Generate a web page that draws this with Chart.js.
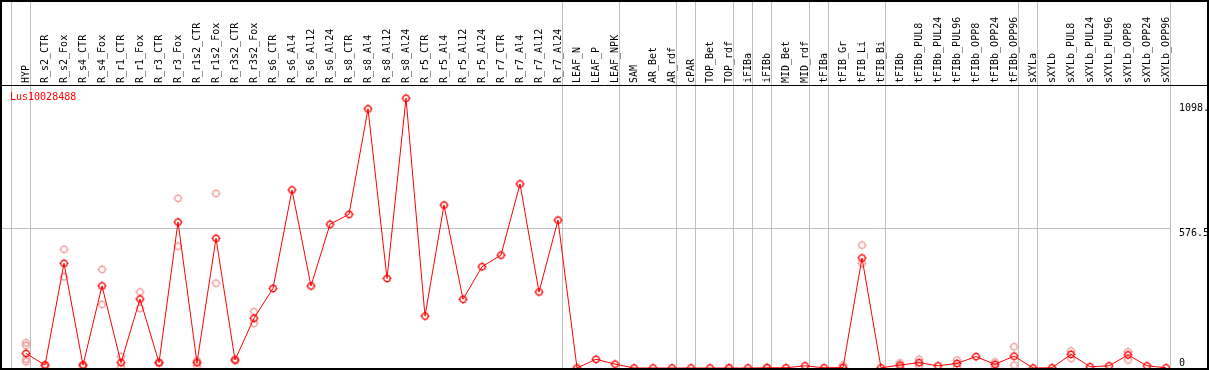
<!DOCTYPE html>
<html>
<head>
<meta charset="utf-8">
<script src="https://cdn.jsdelivr.net/npm/chart.js@4.4.1/dist/chart.umd.min.js"></script>
<style>
  html, body { margin: 0; padding: 0; background: #fff; }
  canvas { display: block; }
</style>
</head>
<body>
<canvas id="geneChart" width="1209" height="370"></canvas>
<script>
const geneName = 'Lus10028488';

const categories = [
  'HYP', 'R_s2_CTR', 'R_s2_Fox', 'R_s4_CTR', 'R_s4_Fox', 'R_r1_CTR', 'R_r1_Fox', 'R_r3_CTR', 'R_r3_Fox',
  'R_r1s2_CTR', 'R_r1s2_Fox', 'R_r3s2_CTR', 'R_r3s2_Fox', 'R_s6_CTR', 'R_s6_Al4', 'R_s6_Al12', 'R_s6_Al24',
  'R_s8_CTR', 'R_s8_Al4', 'R_s8_Al12', 'R_s8_Al24', 'R_r5_CTR', 'R_r5_Al4', 'R_r5_Al12', 'R_r5_Al24',
  'R_r7_CTR', 'R_r7_Al4', 'R_r7_Al12', 'R_r7_Al24', 'LEAF_N', 'LEAF_P', 'LEAF_NPK', 'SAM', 'AR_Bet', 'AR_rdf',
  'cPAR', 'TOP_Bet', 'TOP_rdf', 'iFIBa', 'iFIBb', 'MID_Bet', 'MID_rdf', 'tFIBa', 'tFIB_Gr', 'tFIB_Li', 'tFIB_Bi',
  'tFIBb', 'tFIBb_PUL8', 'tFIBb_PUL24', 'tFIBb_PUL96', 'tFIBb_OPP8', 'tFIBb_OPP24', 'tFIBb_OPP96',
  'sXYLa', 'sXYLb', 'sXYLb_PUL8', 'sXYLb_PUL24', 'sXYLb_PUL96', 'sXYLb_OPP8', 'sXYLb_OPP24', 'sXYLb_OPP96'
];

// index of the last sample in each group (-1 = left edge)
const groupEnds = [-1, 0, 28, 31, 34, 35, 37, 38, 39, 41, 42, 45, 52, 53, 60];

const meanValues = [
  60, 12, 431, 12, 338, 22, 284, 22, 601,
  22, 534, 33, 205, 328, 733, 338, 592,
  633, 1067, 369, 1111, 214, 671, 283, 417,
  465, 758, 313, 609, 0, 36, 16, 0, 0, 0,
  0, 0, 0, 0, 1, 1, 9, 1, 2, 453, 1,
  12, 22, 9, 19, 47, 15, 49,
  0, 1, 56, 5, 9, 54, 9, 1
];

const repA = [
  104, 14, 489, 14, 406, 47, 313, 24, 699,
  30, 719, 36, 232, null, null, null, null,
  null, null, null, null, null, null, null, null,
  null, null, null, null, null, null, null, null, null, null,
  null, null, 2, null, 3, null, null, null, 12, 506, null,
  21, 36, null, 33, null, 25, 88,
  null, null, 70, null, null, 67, null, null
];

const repB = [
  36, 8, 376, 8, 262, 5, 246, 20, 502,
  8, 349, 30, 184, null, null, null, null,
  null, null, null, null, null, null, null, null,
  null, null, null, null, null, null, null, null, null, null,
  null, null, null, null, null, null, null, null, null, 431, null,
  4, 10, null, 5, null, 5, 12,
  null, null, 40, null, null, 33, null, null
];

const repC = [93];
const repD = [26];

const yTickValues = [0, 576.5, 1092];
const yTickLabels = ['0', '576.5', '1098.'];

const toPoints = arr => arr
  .map((v, i) => (v === null ? null : { x: i, y: v }))
  .filter(p => p !== null);

function makeMarker(color) {
  const c = document.createElement('canvas');
  c.width = 11;
  c.height = 11;
  const g = c.getContext('2d');
  g.strokeStyle = color;
  g.lineWidth = 1.3;
  g.beginPath();
  g.arc(5.5, 5.5, 3.2, 0, Math.PI * 2);
  g.stroke();
  g.lineWidth = 1;
  g.beginPath();
  g.moveTo(5.5, 1); g.lineTo(5.5, 2.5);
  g.moveTo(5.5, 8.5); g.lineTo(5.5, 10);
  g.moveTo(1, 5.5); g.lineTo(2.5, 5.5);
  g.moveTo(8.5, 5.5); g.lineTo(10, 5.5);
  g.stroke();
  return c;
}

const mainMarker = makeMarker('#ff0000');
const repMarker = makeMarker('#f09a9a');

const frame = {
  id: 'frame',
  beforeDatasetsDraw(chart) {
    const { ctx, chartArea, scales } = chart;
    ctx.save();
    ctx.strokeStyle = '#c0c0c0';
    ctx.lineWidth = 1;
    groupEnds.forEach(i => {
      const px = Math.round(scales.x.getPixelForValue(i)) + 4.5;
      ctx.beginPath();
      ctx.moveTo(px, 0);
      ctx.lineTo(px, chartArea.bottom);
      ctx.stroke();
    });
    const py = Math.round(scales.y.getPixelForValue(576.5)) + 0.5;
    ctx.beginPath();
    ctx.moveTo(0, py);
    ctx.lineTo(chartArea.right, py);
    ctx.stroke();
    ctx.restore();
  },
  afterDraw(chart) {
    const { ctx, chartArea, scales, width, height } = chart;
    ctx.save();
    ctx.strokeStyle = '#000';
    ctx.lineWidth = 2;
    ctx.strokeRect(1, 1, width - 2, height - 2);
    ctx.lineWidth = 1;
    ctx.beginPath();
    ctx.moveTo(0, chartArea.top + 0.5);
    ctx.lineTo(width, chartArea.top + 0.5);
    ctx.stroke();

    ctx.font = '10px "DejaVu Sans Mono"';
    ctx.textAlign = 'left';
    ctx.textBaseline = 'alphabetic';
    ctx.fillStyle = '#000';
    yTickValues.forEach((v, k) => {
      const y = scales.y.getPixelForValue(v);
      const ty = v === 0 ? y - 2.5 : y + 8;
      ctx.fillText(yTickLabels[k], chartArea.right + 9, ty);
    });

    ctx.fillStyle = '#ff0000';
    ctx.fillText(geneName, 10, 100);
    ctx.restore();
  }
};

new Chart(document.getElementById('geneChart').getContext('2d'), {
  type: 'line',
  data: {
    datasets: [
      {
        type: 'scatter',
        data: [...toPoints(repA), ...toPoints(repB), ...toPoints(repC), ...toPoints(repD)],
        pointStyle: repMarker,
        pointRadius: 4,
        order: 2
      },
      {
        data: toPoints(meanValues),
        borderColor: '#ff0000',
        borderWidth: 1,
        tension: 0,
        pointStyle: mainMarker,
        pointRadius: 4,
        order: 1
      }
    ]
  },
  options: {
    responsive: false,
    animation: false,
    devicePixelRatio: 1,
    layout: { autoPadding: false, padding: { left: 1, right: 1, top: 0, bottom: 1 } },
    plugins: { legend: { display: false }, tooltip: { enabled: false } },
    scales: {
      x: {
        type: 'linear',
        position: 'top',
        min: -25 / 19,
        max: 60 + 4 / 19,
        grid: { display: false, drawTicks: false },
        border: { display: false },
        afterBuildTicks: s => { s.ticks = categories.map((c, i) => ({ value: i })); },
        afterFit: s => {
          s.height = 85;
          s.paddingLeft = 0;
          s.paddingRight = 0;
        },
        ticks: {
          autoSkip: false,
          minRotation: 90,
          maxRotation: 90,
          padding: 2,
          labelOffset: 12,
          color: '#000',
          font: { family: 'DejaVu Sans Mono', size: 10 },
          callback: v => categories[v]
        }
      },
      y: {
        type: 'linear',
        position: 'right',
        min: -1 / 0.24284,
        max: 283 / 0.24284,
        grid: { display: false, drawTicks: false },
        border: { display: false },
        ticks: { display: false },
        afterFit: s => { s.width = 38; }
      }
    }
  },
  plugins: [frame]
});
</script>
</body>
</html>
